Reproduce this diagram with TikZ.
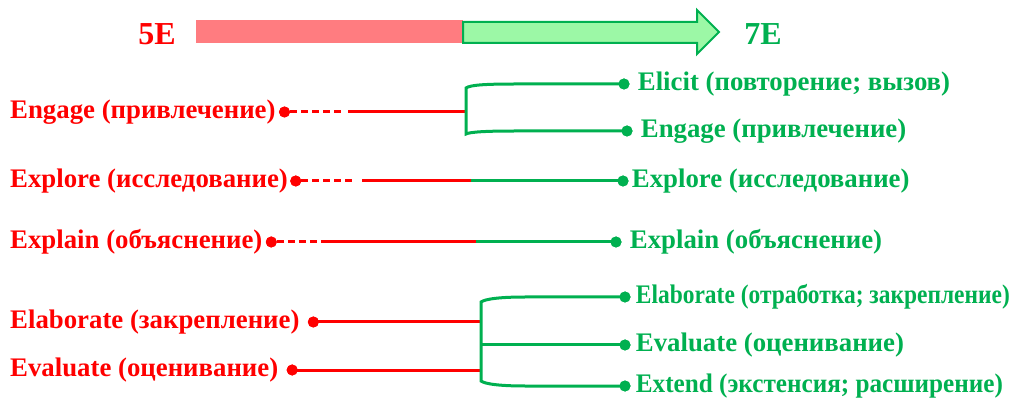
\documentclass[tikz,border=0pt]{standalone}
\usepackage{fontspec}
\usepackage{graphicx}
\setmainfont{Liberation Serif}
\usetikzlibrary{positioning}
\definecolor{myred}{HTML}{FF0000}
\definecolor{mygreen}{HTML}{00B050}
\definecolor{barred}{HTML}{FF7C80}
\definecolor{bargreen}{HTML}{9CF8A6}
\tikzset{
  lbl/.style={font=\fontsize{26.8}{28}\selectfont\bfseries, inner sep=0pt},
  redlbl/.style={lbl, text=myred, anchor=west},
  greenlbl/.style={lbl, text=mygreen, anchor=west},
  bigred/.style={font=\fontsize{32}{34}\selectfont\bfseries, text=myred, inner sep=0pt},
  biggreen/.style={font=\fontsize{32}{34}\selectfont\bfseries, text=mygreen, inner sep=0pt},
  rdot/.style={circle, fill=myred, inner sep=0pt, minimum size=11pt},
  gdot/.style={circle, fill=mygreen, inner sep=0pt, minimum size=11pt},
  rline/.style={draw=myred, line width=3pt},
  rdash/.style={rline, dash pattern=on 7pt off 4pt},
  gline/.style={draw=mygreen, line width=3pt},
}
\begin{document}
\begin{tikzpicture}[x=1pt, y=-1pt]
\useasboundingbox (0,0) rectangle (1015,403);
% top bar
\node[bigred] (five) at (157,34) {5E};
\node[biggreen] (seven) at (763,34) {7E};
\fill[barred] (196,20) rectangle (463,43);
\draw[mygreen, fill=bargreen, line width=2pt, line join=miter]
  (463,22) -- (697,22) -- (697,10) -- (719,32) -- (697,54) -- (697,43) -- (463,43) -- cycle;

% left labels
\node[redlbl] (l1) at (10,112) {Engage (привлечение)};
\node[rdot, right=3pt of l1] (ld1) {};
\node[redlbl] (l2) at (10,181) {Explore (исследование)};
\node[rdot, right=2pt of l2] (ld2) {};
\node[redlbl] (l3) at (10,242) {Explain (объяснение)};
\node[rdot, right=3pt of l3] (ld3) {};
\node[redlbl] (l4) at (10,322) {Elaborate (закрепление)};
\node[rdot, right=8pt of l4] (ld4) {};
\node[redlbl] (l5) at (10,370) {Evaluate (оценивание)};
\node[rdot, right=8pt of l5] (ld5) {};

% right dots and labels
\node[gdot] (rd1) at (624,84) {};
\node[greenlbl, right=8pt of rd1] (r1) {Elicit (повторение; вызов)};
\node[gdot] (rd2) at (627,131) {};
\node[greenlbl, right=8pt of rd2] (r2) {Engage (привлечение)};
\node[gdot] (rd3) at (623,181) {};
\node[greenlbl, right=3pt of rd3] (r3) {Explore (исследование)};
\node[gdot] (rd4) at (616,242) {};
\node[greenlbl, right=8pt of rd4] (r4) {Explain (объяснение)};
\node[gdot] (rd5) at (625,297) {};
\node[greenlbl, right=5pt of rd5] (r5) {\scalebox{0.875}[1]{Elaborate (отработка; закрепление)}};
\node[gdot] (rd6) at (625,345) {};
\node[greenlbl, right=5pt of rd6] (r6) {Evaluate (оценивание)};
\node[gdot] (rd7) at (625,386) {};
\node[greenlbl, right=5pt of rd7] (r7) {\scalebox{0.94}[1]{Extend (экстенсия; расширение)}};

% junction coordinates
\coordinate (a1) at (342,112);
\coordinate (b1) at (348,112);
\coordinate (j1) at (466,112);
\coordinate (jt1) at (466,88);
\coordinate (jb1) at (466,134);
\coordinate (a2) at (355,181);
\coordinate (b2) at (362,181);
\coordinate (j2) at (471,181);
\coordinate (a3) at (322,242);
\coordinate (j3) at (476,242);
\coordinate (j4) at (481,322);
\coordinate (j5) at (481,370);
\coordinate (jm) at (481,345);
\coordinate (jt2) at (481,302);
\coordinate (jb2) at (481,381);

% connectors
\draw[rdash] (ld1.east) -- (a1);
\draw[rline] (b1) -- (j1);
\draw[gline] (rd1.center) -- (515,84) .. controls (485,84) and (470,85) .. (jt1) -- (jb1)
  .. controls (470,132) and (485,131) .. (515,131) -- (rd2.center);

\draw[rdash] (ld2.east) -- (a2);
\draw[rline] (b2) -- (j2);
\draw[gline] (j2) -- (rd3.center);

\draw[rdash] (ld3.east) -- (a3);
\draw[rline] (a3) -- (j3);
\draw[gline] (j3) -- (rd4.center);

\draw[rline] (ld4.center) -- (j4);
\draw[rline] (ld5.center) -- (j5);
\draw[gline] (rd5.center) -- (525,297) .. controls (500,297) and (485,299) .. (jt2) -- (jb2)
  .. controls (485,384) and (500,386) .. (525,386) -- (rd7.center);
\draw[gline] (jm) -- (rd6.center);

% dots on top
\foreach \d in {ld1,ld2,ld3,ld4,ld5} \fill[myred] (\d) circle (5.5pt);
\foreach \d in {rd1,rd2,rd3,rd4,rd5,rd6,rd7} \fill[mygreen] (\d) circle (5.5pt);
\end{tikzpicture}
\end{document}
